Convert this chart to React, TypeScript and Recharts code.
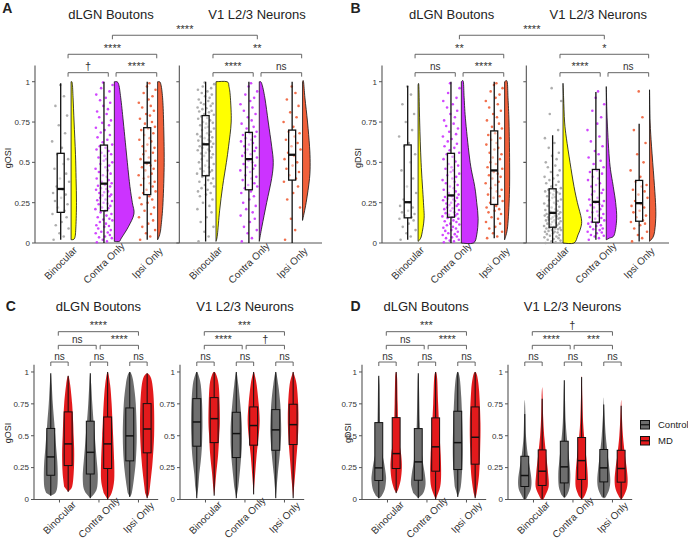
import React from 'react';
import { ComposedChart, Scatter, XAxis, YAxis } from 'recharts';

const CATEGORIES = ['Binocular', 'Contra Only', 'Ipsi Only'];
const Y_TICKS = [0, 0.25, 0.5, 0.75, 1];
const LEGEND = ['Control', 'MD'];

// ---------- A: gOSI raincloud ----------
// box stats per category: [min, q1, median, q3, max]
const A_DLGN_BOX = [
  [0.02, 0.19, 0.335, 0.556, 0.99],
  [0.0, 0.2, 0.368, 0.607, 1.0],
  [0.02, 0.3, 0.498, 0.715, 1.0],
];
const A_V1_BOX = [
  [0.01, 0.417, 0.612, 0.79, 1.0],
  [0.0, 0.33, 0.52, 0.686, 1.0],
  [0.0, 0.39, 0.547, 0.7, 1.0],
];
// half violins: [value, relative density]
const A_DLGN_DENS = [
  [[0.02, 0], [0.03, 0.18], [0.1, 0.24], [0.25, 0.27], [0.4, 0.25], [0.55, 0.22], [0.75, 0.15], [0.9, 0.1], [0.99, 0.06], [1.0, 0]],
  [[0.01, 0], [0.01, 0.25], [0.03, 0.35], [0.1, 0.7], [0.18, 0.98], [0.25, 0.9], [0.35, 0.78], [0.5, 0.65], [0.75, 0.45], [0.9, 0.32], [0.99, 0.2], [1.0, 0]],
  [[0.02, 0], [0.05, 0.1], [0.1, 0.17], [0.25, 0.27], [0.5, 0.33], [0.75, 0.3], [0.9, 0.25], [0.99, 0.15], [1.0, 0]],
];
const A_V1_DENS = [
  [[0.01, 0], [0.05, 0.07], [0.2, 0.18], [0.35, 0.33], [0.5, 0.52], [0.6, 0.63], [0.75, 0.76], [0.9, 0.72], [0.97, 0.65], [1.0, 0.55], [1.0, 0]],
  [[0.01, 0], [0.1, 0.13], [0.25, 0.37], [0.4, 0.62], [0.5, 0.7], [0.6, 0.62], [0.75, 0.45], [0.9, 0.28], [0.99, 0.12], [1.0, 0]],
  [[0.14, 0], [0.25, 0.18], [0.4, 0.35], [0.5, 0.38], [0.6, 0.35], [0.75, 0.25], [0.9, 0.12], [1.0, 0.05], [1.0, 0]],
];
// individual values drawn as jittered dots
const A_DLGN_DOTS = [
  [0.02, 0.04, 0.06, 0.09, 0.11, 0.13, 0.16, 0.18, 0.2, 0.22, 0.24, 0.26, 0.28, 0.3, 0.31, 0.33, 0.35, 0.38, 0.4, 0.43, 0.46, 0.49, 0.52, 0.55, 0.59, 0.63, 0.68, 0.73, 0.79, 0.85, 0.91, 0.98],
  [0.005, 0.01, 0.02, 0.03, 0.035, 0.04, 0.05, 0.06, 0.065, 0.07, 0.08, 0.09, 0.1, 0.105, 0.11, 0.12, 0.13, 0.14, 0.145, 0.15, 0.16, 0.17, 0.18, 0.19,
    0.2, 0.21, 0.215, 0.22, 0.23, 0.24, 0.245, 0.25, 0.26, 0.265, 0.27, 0.28, 0.29, 0.295, 0.3, 0.31, 0.315, 0.32, 0.33, 0.335, 0.34, 0.35, 0.355, 0.36,
    0.37, 0.38, 0.39, 0.4, 0.41, 0.42, 0.43, 0.44, 0.45, 0.46, 0.47, 0.48, 0.49, 0.5, 0.51, 0.52, 0.53, 0.54, 0.55, 0.56, 0.57, 0.58, 0.59, 0.6,
    0.61, 0.625, 0.64, 0.655, 0.67, 0.685, 0.7, 0.715, 0.73, 0.745, 0.76, 0.78, 0.8, 0.815, 0.83, 0.85, 0.87, 0.885, 0.9, 0.92, 0.94, 0.96, 0.98, 0.995],
  [0.02, 0.04, 0.06, 0.08, 0.1, 0.12, 0.14, 0.16, 0.18, 0.2, 0.22, 0.24, 0.25, 0.27, 0.28, 0.29,
    0.31, 0.32, 0.33, 0.35, 0.36, 0.37, 0.38, 0.4, 0.41, 0.42, 0.43, 0.45, 0.46, 0.47, 0.48, 0.49,
    0.51, 0.52, 0.53, 0.55, 0.56, 0.57, 0.59, 0.6, 0.61, 0.63, 0.64, 0.65, 0.67, 0.68, 0.7, 0.71,
    0.72, 0.74, 0.75, 0.77, 0.79, 0.8, 0.82, 0.84, 0.85, 0.87, 0.89, 0.91, 0.93, 0.95, 0.97, 0.99],
];
const A_V1_DOTS = [
  [0.01, 0.04, 0.07, 0.1, 0.13, 0.16, 0.19, 0.21, 0.23, 0.25, 0.27, 0.29, 0.3, 0.31, 0.32, 0.33, 0.34, 0.35, 0.36, 0.37, 0.38, 0.39, 0.4, 0.41,
    0.42, 0.43, 0.44, 0.445, 0.45, 0.46, 0.47, 0.48, 0.49, 0.5, 0.51, 0.52, 0.53, 0.54, 0.55, 0.555, 0.56, 0.57, 0.575, 0.58, 0.59, 0.595, 0.6, 0.61,
    0.615, 0.62, 0.63, 0.635, 0.64, 0.65, 0.655, 0.66, 0.67, 0.675, 0.68, 0.69, 0.7, 0.71, 0.715, 0.72, 0.73, 0.74, 0.745, 0.75, 0.76, 0.77, 0.775, 0.785,
    0.795, 0.8, 0.81, 0.815, 0.82, 0.83, 0.835, 0.84, 0.85, 0.86, 0.865, 0.87, 0.88, 0.89, 0.9, 0.91, 0.92, 0.93, 0.94, 0.95, 0.96, 0.97, 0.985, 0.995],
  [0.01, 0.03, 0.06, 0.08, 0.1, 0.13, 0.15, 0.17, 0.19, 0.21, 0.23, 0.25, 0.27, 0.29, 0.31, 0.32,
    0.34, 0.35, 0.36, 0.37, 0.39, 0.4, 0.41, 0.42, 0.44, 0.45, 0.46, 0.47, 0.48, 0.49, 0.5, 0.51,
    0.53, 0.54, 0.55, 0.56, 0.57, 0.58, 0.59, 0.6, 0.61, 0.62, 0.63, 0.64, 0.65, 0.66, 0.67, 0.68,
    0.69, 0.71, 0.72, 0.74, 0.76, 0.78, 0.8, 0.82, 0.84, 0.86, 0.88, 0.9, 0.92, 0.94, 0.97, 0.99],
  [0.02, 0.08, 0.15, 0.22, 0.27, 0.31, 0.35, 0.38, 0.4, 0.42, 0.44, 0.46, 0.48, 0.5, 0.52, 0.54, 0.56, 0.58, 0.6, 0.62, 0.64, 0.66, 0.68, 0.69, 0.72, 0.75, 0.78, 0.81, 0.85, 0.89, 0.93, 0.97],
];
const A_TESTS = [['†', '****', '****'], ['****', 'ns', '**']];
const A_TOP_TEST = '****';

// ---------- B: gDSI raincloud ----------
const B_DLGN_BOX = [
  [0.02, 0.156, 0.253, 0.608, 0.975],
  [0.0, 0.16, 0.295, 0.556, 1.0],
  [0.03, 0.239, 0.45, 0.695, 1.0],
];
const B_V1_BOX = [
  [0.0, 0.098, 0.187, 0.336, 0.668],
  [0.02, 0.129, 0.255, 0.456, 0.936],
  [0.01, 0.135, 0.247, 0.388, 0.74],
];
const B_DLGN_DENS = [
  [[0.01, 0], [0.02, 0.08], [0.05, 0.18], [0.15, 0.3], [0.25, 0.27], [0.5, 0.15], [0.75, 0.08], [0.97, 0.04], [0.98, 0]],
  [[0.0, 0], [0.0, 0.6], [0.05, 0.77], [0.15, 0.84], [0.25, 0.77], [0.35, 0.67], [0.5, 0.44], [0.75, 0.22], [0.9, 0.14], [1.0, 0.1], [1.0, 0]],
  [[0.02, 0], [0.1, 0.15], [0.3, 0.24], [0.5, 0.25], [0.75, 0.22], [0.9, 0.17], [1.0, 0.13], [1.0, 0]],
];
const B_V1_DENS = [
  [[0.0, 0], [0.0, 0.55], [0.05, 0.75], [0.1, 0.9], [0.15, 0.92], [0.25, 0.72], [0.35, 0.55], [0.5, 0.35], [0.65, 0.17], [0.75, 0.08], [0.9, 0.03], [0.99, 0]],
  [[0.02, 0], [0.03, 0.15], [0.05, 0.4], [0.15, 0.52], [0.25, 0.47], [0.35, 0.35], [0.5, 0.17], [0.75, 0.05], [0.97, 0]],
  [[0.01, 0], [0.05, 0.22], [0.15, 0.31], [0.25, 0.3], [0.4, 0.22], [0.6, 0.1], [0.75, 0.03], [0.95, 0]],
];
const B_DLGN_DOTS = [
  [0.02, 0.04, 0.06, 0.08, 0.1, 0.12, 0.14, 0.15, 0.16, 0.17, 0.18, 0.19, 0.2, 0.22, 0.23, 0.25, 0.27, 0.31, 0.35, 0.4, 0.45, 0.5, 0.55, 0.6, 0.62, 0.66, 0.7, 0.75, 0.8, 0.86, 0.92, 0.97],
  [0.005, 0.01, 0.015, 0.02, 0.03, 0.035, 0.04, 0.05, 0.055, 0.06, 0.07, 0.075, 0.08, 0.09, 0.095, 0.1, 0.11, 0.115, 0.12, 0.13, 0.135, 0.14, 0.15, 0.155,
    0.16, 0.165, 0.17, 0.175, 0.18, 0.185, 0.19, 0.2, 0.205, 0.21, 0.215, 0.22, 0.23, 0.235, 0.24, 0.245, 0.25, 0.26, 0.265, 0.27, 0.275, 0.28, 0.285, 0.29,
    0.3, 0.31, 0.32, 0.33, 0.34, 0.35, 0.36, 0.37, 0.38, 0.39, 0.4, 0.41, 0.42, 0.43, 0.44, 0.45, 0.46, 0.47, 0.48, 0.49, 0.505, 0.52, 0.535, 0.55,
    0.56, 0.575, 0.59, 0.6, 0.615, 0.63, 0.645, 0.66, 0.675, 0.69, 0.71, 0.725, 0.74, 0.76, 0.78, 0.8, 0.82, 0.84, 0.86, 0.88, 0.9, 0.93, 0.96, 0.99],
  [0.03, 0.04, 0.06, 0.07, 0.09, 0.1, 0.12, 0.13, 0.15, 0.16, 0.18, 0.19, 0.2, 0.21, 0.22, 0.23,
    0.25, 0.26, 0.28, 0.29, 0.3, 0.32, 0.33, 0.34, 0.36, 0.37, 0.38, 0.4, 0.41, 0.42, 0.43, 0.44,
    0.46, 0.47, 0.49, 0.5, 0.52, 0.53, 0.55, 0.56, 0.58, 0.59, 0.61, 0.62, 0.64, 0.65, 0.67, 0.68,
    0.71, 0.72, 0.74, 0.76, 0.78, 0.8, 0.82, 0.84, 0.86, 0.88, 0.9, 0.92, 0.94, 0.96, 0.98, 0.99],
];
const B_V1_DOTS = [
  [0.0, 0.005, 0.01, 0.015, 0.02, 0.025, 0.03, 0.035, 0.04, 0.045, 0.05, 0.055, 0.06, 0.065, 0.07, 0.07, 0.075, 0.08, 0.08, 0.085, 0.09, 0.09, 0.095, 0.095,
    0.1, 0.105, 0.11, 0.115, 0.12, 0.12, 0.125, 0.13, 0.135, 0.14, 0.14, 0.145, 0.15, 0.15, 0.155, 0.16, 0.16, 0.165, 0.17, 0.17, 0.175, 0.18, 0.18, 0.185,
    0.19, 0.195, 0.2, 0.205, 0.21, 0.22, 0.225, 0.23, 0.24, 0.245, 0.25, 0.26, 0.265, 0.27, 0.28, 0.285, 0.29, 0.3, 0.305, 0.31, 0.315, 0.32, 0.325, 0.33,
    0.34, 0.35, 0.36, 0.37, 0.38, 0.39, 0.4, 0.41, 0.42, 0.44, 0.45, 0.47, 0.48, 0.5, 0.52, 0.54, 0.56, 0.59, 0.62, 0.65, 0.7, 0.8, 0.88, 0.96],
  [0.02, 0.03, 0.04, 0.045, 0.05, 0.06, 0.065, 0.07, 0.08, 0.085, 0.09, 0.1, 0.105, 0.11, 0.12, 0.125,
    0.13, 0.14, 0.15, 0.155, 0.16, 0.17, 0.18, 0.19, 0.195, 0.2, 0.21, 0.22, 0.23, 0.235, 0.24, 0.25,
    0.26, 0.27, 0.28, 0.3, 0.31, 0.32, 0.33, 0.35, 0.36, 0.37, 0.39, 0.4, 0.41, 0.43, 0.44, 0.45,
    0.47, 0.49, 0.51, 0.53, 0.55, 0.57, 0.6, 0.63, 0.66, 0.7, 0.74, 0.78, 0.82, 0.86, 0.9, 0.94],
  [0.01, 0.03, 0.05, 0.07, 0.09, 0.11, 0.12, 0.13, 0.14, 0.16, 0.17, 0.19, 0.2, 0.22, 0.23, 0.24, 0.26, 0.28, 0.3, 0.32, 0.33, 0.35, 0.36, 0.38, 0.41, 0.45, 0.5, 0.55, 0.62, 0.7, 0.78, 0.94],
];
const B_TESTS = [['ns', '****', '**'], ['****', 'ns', '*']];
const B_TOP_TEST = '****';

// ---------- C: gOSI Control vs MD ----------
// per category: [Control stats, MD stats]
const C_DLGN_BOX = [
  [[0.03, 0.19, 0.334, 0.557, 0.99], [0.06, 0.266, 0.436, 0.687, 0.97]],
  [[0.01, 0.2, 0.37, 0.614, 0.99], [0.0, 0.243, 0.436, 0.647, 1.0]],
  [[0.02, 0.303, 0.499, 0.718, 1.0], [0.01, 0.366, 0.553, 0.752, 0.99]],
];
const C_V1_BOX = [
  [[0.01, 0.418, 0.608, 0.791, 1.0], [0.03, 0.446, 0.634, 0.799, 1.0]],
  [[0.01, 0.329, 0.517, 0.684, 1.0], [0.04, 0.426, 0.58, 0.726, 1.0]],
  [[0.01, 0.386, 0.546, 0.705, 1.0], [0.01, 0.431, 0.587, 0.747, 1.0]],
];
const C_DLGN_DENS = [
  [[[0.03, 0], [0.05, 0.6], [0.1, 0.87], [0.2, 0.93], [0.3, 0.87], [0.4, 0.73], [0.5, 0.6], [0.6, 0.47], [0.75, 0.27], [0.9, 0.13], [0.99, 0]],
   [[0.06, 0], [0.1, 0.53], [0.2, 0.73], [0.3, 0.8], [0.4, 0.8], [0.5, 0.73], [0.6, 0.67], [0.75, 0.53], [0.9, 0.27], [0.97, 0]]],
  [[[0.01, 0], [0.05, 0.6], [0.1, 0.93], [0.2, 1.0], [0.3, 0.87], [0.4, 0.73], [0.5, 0.6], [0.6, 0.45], [0.75, 0.27], [0.9, 0.13], [0.99, 0]],
   [[0.0, 0], [0.05, 0.53], [0.15, 0.87], [0.3, 0.87], [0.5, 0.73], [0.6, 0.65], [0.75, 0.53], [0.9, 0.33], [1.0, 0]]],
  [[[0.02, 0], [0.05, 0.27], [0.15, 0.53], [0.3, 0.8], [0.5, 0.93], [0.75, 0.8], [0.9, 0.53], [0.97, 0.3], [1.0, 0]],
   [[0.01, 0], [0.05, 0.27], [0.15, 0.47], [0.3, 0.73], [0.5, 0.93], [0.7, 0.93], [0.85, 0.8], [0.95, 0.53], [0.99, 0]]],
];
const C_V1_DENS = [
  [[[0.01, 0], [0.1, 0.2], [0.2, 0.33], [0.3, 0.53], [0.4, 0.67], [0.5, 0.73], [0.6, 0.76], [0.75, 0.71], [0.9, 0.53], [0.98, 0.2], [1.0, 0]],
   [[0.03, 0], [0.1, 0.13], [0.2, 0.27], [0.35, 0.53], [0.5, 0.67], [0.6, 0.76], [0.75, 0.73], [0.9, 0.6], [0.98, 0.27], [1.0, 0]]],
  [[[0.01, 0], [0.1, 0.27], [0.25, 0.53], [0.4, 0.73], [0.5, 0.76], [0.6, 0.73], [0.75, 0.53], [0.9, 0.27], [1.0, 0]],
   [[0.04, 0], [0.2, 0.2], [0.35, 0.4], [0.5, 0.67], [0.62, 0.8], [0.75, 0.67], [0.9, 0.4], [0.98, 0.13], [1.0, 0]]],
  [[[0.01, 0], [0.2, 0.27], [0.35, 0.53], [0.5, 0.71], [0.6, 0.71], [0.75, 0.6], [0.9, 0.33], [1.0, 0]],
   [[0.01, 0], [0.15, 0.2], [0.3, 0.4], [0.45, 0.6], [0.6, 0.71], [0.75, 0.67], [0.9, 0.47], [0.98, 0.13], [1.0, 0]]],
];
const C_CAT_TESTS = [['ns', 'ns', 'ns'], ['ns', 'ns', 'ns']];
const C_PAIR_TESTS = [['ns', '****', '****'], ['****', '†', '***']];

// ---------- D: gDSI Control vs MD ----------
const D_DLGN_BOX = [
  [[0.01, 0.149, 0.248, 0.603, 0.97], [0.05, 0.243, 0.36, 0.642, 1.0]],
  [[0.01, 0.151, 0.295, 0.556, 0.99], [0.0, 0.222, 0.413, 0.64, 1.0]],
  [[0.02, 0.235, 0.446, 0.692, 1.0], [0.01, 0.277, 0.488, 0.726, 1.0]],
];
const D_V1_BOX = [
  [[0.0, 0.102, 0.188, 0.339, 0.67], [0.0, 0.11, 0.222, 0.389, 0.79]],
  [[0.02, 0.13, 0.256, 0.457, 0.935], [0.0, 0.157, 0.305, 0.486, 0.96]],
  [[0.02, 0.138, 0.248, 0.392, 0.745], [0.0, 0.136, 0.243, 0.386, 0.735]],
];
const D_DLGN_DENS = [
  [[[0.01, 0], [0.03, 0.4], [0.08, 0.8], [0.15, 0.97], [0.2, 0.93], [0.3, 0.67], [0.4, 0.33], [0.5, 0.2], [0.75, 0.13], [0.9, 0.09], [0.97, 0]],
   [[0.05, 0], [0.08, 0.27], [0.15, 0.6], [0.25, 0.76], [0.35, 0.67], [0.5, 0.33], [0.75, 0.2], [0.95, 0.13], [1.0, 0]]],
  [[[0.01, 0], [0.05, 0.67], [0.12, 0.97], [0.2, 0.87], [0.3, 0.6], [0.45, 0.33], [0.6, 0.2], [0.9, 0.09], [0.99, 0]],
   [[0.0, 0], [0.02, 0.13], [0.1, 0.6], [0.2, 0.73], [0.35, 0.67], [0.5, 0.53], [0.75, 0.33], [0.95, 0.2], [1.0, 0]]],
  [[[0.02, 0], [0.1, 0.4], [0.25, 0.6], [0.4, 0.67], [0.6, 0.6], [0.8, 0.47], [0.95, 0.27], [1.0, 0]],
   [[0.01, 0], [0.05, 0.2], [0.2, 0.53], [0.4, 0.67], [0.6, 0.71], [0.85, 0.53], [0.97, 0.27], [1.0, 0]]],
];
const D_V1_DENS = [
  [[[0.0, 0], [0.0, 0.13], [0.03, 0.4], [0.08, 0.8], [0.15, 0.89], [0.25, 0.67], [0.35, 0.4], [0.5, 0.16], [0.7, 0.07], [0.78, 0]],
   [[0.0, 0], [0.0, 0.13], [0.03, 0.4], [0.1, 0.87], [0.2, 0.8], [0.35, 0.53], [0.5, 0.27], [0.65, 0.13], [0.8, 0.07], [0.88, 0]]],
  [[[0.01, 0], [0.04, 0.4], [0.1, 0.73], [0.2, 0.8], [0.3, 0.67], [0.45, 0.4], [0.6, 0.2], [0.8, 0.09], [0.94, 0]],
   [[0.0, 0], [0.03, 0.4], [0.1, 0.8], [0.2, 0.8], [0.3, 0.67], [0.45, 0.4], [0.6, 0.2], [0.8, 0.09], [0.97, 0]]],
  [[[0.01, 0], [0.02, 0.27], [0.08, 0.73], [0.15, 0.87], [0.25, 0.73], [0.35, 0.53], [0.5, 0.27], [0.7, 0.07], [0.8, 0]],
   [[0.0, 0], [0.02, 0.27], [0.08, 0.73], [0.15, 0.87], [0.25, 0.73], [0.35, 0.5], [0.5, 0.24], [0.65, 0.1], [0.78, 0]]],
];
const D_CAT_TESTS = [['ns', 'ns', 'ns'], ['ns', 'ns', 'ns']];
const D_PAIR_TESTS = [['ns', '****', '***'], ['****', '***', '†']];

// fixed horizontal jitter pattern for the dots (fraction of the jitter half-width)
const JITTER = [-0.82, 0.35, -0.14, 0.91, -0.57, 0.12, 0.68, -0.95, 0.44, -0.31, 0.79, -0.66, 0.05, 0.58, -0.88, 0.23,
  -0.47, 0.97, -0.08, 0.63, -0.72, 0.29, 0.86, -0.39, 0.14, -0.99, 0.51, -0.22, 0.74, -0.61, 0.38, -0.05,
  0.93, -0.77, 0.19, -0.44, 0.66, -0.17, 0.84, -0.53, 0.02, 0.47, -0.91, 0.27, -0.35, 0.71, -0.69, 0.11,
  0.89, -0.26, 0.55, -0.84, 0.32, -0.12, 0.77, -0.58, 0.41, -0.97, 0.16, 0.61, -0.41, 0.96, -0.03, 0.25,
  -0.63, 0.07, 0.83, -0.29, 0.52, -0.86, 0.18, -0.49, 0.95, -0.15, 0.39, -0.74, 0.69, -0.37, 0.09, -0.93,
  0.59, -0.2, 0.81, -0.55, 0.31, -0.79, 0.46, -0.07, 0.72, -0.45, 0.21, -0.89, 0.64, -0.33, 0.99, -0.11];

// ---------- styling / layout ----------
const FONT = '"Liberation Sans", Arial, sans-serif';
const INK = '#111';
const AXIS = '#555';
const DOT_COLORS = ['#a5a5a5', '#cc33ff', '#f0603a'];
const HALF_FILLS = ['#ffff00', '#cc33ff', '#f0603a'];
const PAIR_FILLS = ['#6e6e6e', '#e31a1c'];

const AB_CAT_X = [1, 2, 3, 4.35, 5.35, 6.35];
const AB_DOMAIN = [0.406, 7.04];
const AB_SPLIT = 3.742;
const AB_YMAX = 1.395;
const AB_LEVELS = [1.056, 1.17, 1.288];

const CD_CAT_X = [1, 2, 3];
const CD_DOMAIN = [0.355, 3.5];
const CD_YMAX = 1.486;
const CD_LEVELS = [1.078, 1.209, 1.316];

const blank = () => <g />;

function smooth(pts: any[]) {
  let d = `M${pts[0].x},${pts[0].y}`;
  for (let i = 0; i < pts.length - 1; i++) {
    const p0 = pts[i - 1] || pts[i];
    const p1 = pts[i];
    const p2 = pts[i + 1];
    const p3 = pts[i + 2] || p2;
    const c1x = p1.x + (p2.x - p0.x) / 6;
    const c1y = p1.y + (p2.y - p0.y) / 6;
    const c2x = p2.x - (p3.x - p1.x) / 6;
    const c2y = p2.y - (p3.y - p1.y) / 6;
    d += ` C${c1x},${c1y} ${c2x},${c2y} ${p2.x},${p2.y}`;
  }
  return d;
}

// a Scatter whose points are hidden and whose joined line draws a custom shape
function pathSeries(key: string, data: any[], render: (pts: any[]) => any) {
  return (
    <Scatter key={key} data={data} shape={blank} line={(p: any) => render(p.points)} isAnimationActive={false} />
  );
}

function dotSeries(key: string, cx: number, values: number[], color: string) {
  const data = values.map((v, i) => ({ x: cx + JITTER[i % JITTER.length] * 0.2, y: v }));
  return (
    <Scatter key={key} data={data} isAnimationActive={false}
      shape={(p: any) => <circle cx={p.cx} cy={p.cy} r={1.3} fill={color} fillOpacity={0.9} />} />
  );
}

function halfViolin(key: string, base: number, dens: number[][], width: number, fill: string) {
  const data = dens.map(([v, d]) => ({ x: base + d * width, y: v }));
  return pathSeries(key, data, (pts) => <path d={smooth(pts) + ' Z'} fill={fill} stroke={INK} strokeWidth={0.8} />);
}

function fullViolin(key: string, cx: number, dens: number[][], width: number, fill: string) {
  const right = dens.map(([v, d]) => ({ x: cx + d * width, y: v }));
  const left = dens.slice(1, -1).reverse().map(([v, d]) => ({ x: cx - d * width, y: v }));
  return pathSeries(key, [...right, ...left], (pts) => <path d={smooth(pts) + ' Z'} fill={fill} />);
}

function boxSeries(key: string, cx: number, s: number[], hw: number, fill: string, sw: number, mw: number) {
  const data = [
    { x: cx, y: s[0] }, { x: cx - hw, y: s[1] }, { x: cx + hw, y: s[2] }, { x: cx + hw, y: s[3] }, { x: cx, y: s[4] },
  ];
  return pathSeries(key, data, (pts) => {
    const [mn, q1, md, q3, mx] = pts;
    return (
      <g>
        <path d={`M${mn.x},${mn.y}V${q1.y}M${mn.x},${q3.y}V${mx.y}`} stroke={INK} strokeWidth={sw} fill="none" />
        <rect x={q1.x} y={q3.y} width={md.x - q1.x} height={q1.y - q3.y} fill={fill} stroke={INK} strokeWidth={sw} />
        <line x1={q1.x} x2={md.x} y1={md.y} y2={md.y} stroke={INK} strokeWidth={mw} />
      </g>
    );
  });
}

function bracketSeries(key: string, x1: number, x2: number, level: number, label: string) {
  return pathSeries(key, [{ x: x1, y: level }, { x: x2, y: level }], (pts) => {
    const [a, b] = pts;
    return (
      <g>
        <path d={`M${a.x},${a.y + 4}V${a.y}H${b.x}V${b.y + 4}`} fill="none" stroke={AXIS} strokeWidth={0.9} />
        <text x={(a.x + b.x) / 2} y={a.y - 2.5} textAnchor="middle" fontSize={label === 'ns' ? 10 : 11}
          fill="#333" fontFamily={FONT}>{label}</text>
      </g>
    );
  });
}

function axisSeries(key: string, x: number, top: number, ticks: boolean) {
  const data = [...(ticks ? Y_TICKS : [0]).map((v) => ({ x, y: v })), { x, y: top }];
  return pathSeries(key, data, (pts) => {
    let d = `M${pts[0].x},${pts[0].y}V${pts[pts.length - 1].y}`;
    if (ticks) pts.slice(0, -1).forEach((p) => { d += `M${p.x},${p.y}h-3`; });
    return <path d={d} stroke={AXIS} strokeWidth={1.1} fill="none" />;
  });
}

const catTick = (dy: number) => (props: any) => {
  const { x, y, index } = props;
  const ty = y + dy;
  return (
    <text x={x} y={ty} transform={`rotate(-45 ${x} ${ty})`} textAnchor="middle" dominantBaseline="central"
      fontSize={10} fill="#333" fontFamily={FONT}>{CATEGORIES[index % 3]}</text>
  );
};

function RainChart({ boxes, dens, dots, tests, topTest }: any) {
  const items: any[] = [];
  boxes.forEach((grp: number[][], g: number) => grp.forEach((_s, c) => {
    items.push(dotSeries(`dot${g}${c}`, AB_CAT_X[g * 3 + c], dots[g][c], DOT_COLORS[c]));
  }));
  boxes.forEach((grp: number[][], g: number) => grp.forEach((s, c) => {
    const cx = AB_CAT_X[g * 3 + c];
    items.push(halfViolin(`vio${g}${c}`, cx + 0.24, dens[g][c], 0.462, HALF_FILLS[c]));
    items.push(boxSeries(`box${g}${c}`, cx, s, 0.081, 'rgba(255,255,255,0.45)', 1.3, 2.3));
  }));
  const mids: number[] = [];
  tests.forEach((t: string[], g: number) => {
    const c = AB_CAT_X.slice(g * 3, g * 3 + 3);
    items.push(bracketSeries(`br${g}a`, c[0] + 0.17, c[1] + 0.1, AB_LEVELS[0], t[0]));
    items.push(bracketSeries(`br${g}b`, c[1] + 0.28, c[2] + 0.22, AB_LEVELS[0], t[1]));
    items.push(bracketSeries(`br${g}c`, c[0] + 0.17, c[2] + 0.22, AB_LEVELS[1], t[2]));
    mids.push((c[0] + c[2] + 0.39) / 2);
  });
  items.push(bracketSeries('brTop', mids[0], mids[1], AB_LEVELS[2], topTest));
  items.push(axisSeries('axL', AB_DOMAIN[0], 1.1, false));
  items.push(axisSeries('axR', AB_SPLIT, 1.1, true));
  return (
    <ComposedChart width={344} height={294} margin={{ top: 18, right: 22, left: 0, bottom: 0 }}>
      <XAxis type="number" dataKey="x" domain={AB_DOMAIN} ticks={AB_CAT_X} interval={0} tick={catTick(17)}
        tickLine={false} tickSize={3} tickMargin={0} height={51} stroke={AXIS} />
      <YAxis type="number" dataKey="y" domain={[0, AB_YMAX]} ticks={Y_TICKS} interval={0} axisLine={false}
        tickSize={3} tickMargin={2} width={35} stroke={AXIS} tick={{ fontSize: 8, fill: '#333' }} />
      {items}
    </ComposedChart>
  );
}

function ViolinChart({ boxes, dens, catTests, pairTests }: any) {
  const items: any[] = [];
  boxes.forEach((pair: number[][], c: number) => pair.forEach((s, k) => {
    const cx = CD_CAT_X[c] + (k === 0 ? -0.22 : 0.22);
    items.push(fullViolin(`vio${c}${k}`, cx, dens[c][k], 0.19, PAIR_FILLS[k]));
    items.push(boxSeries(`box${c}${k}`, cx, s, 0.1, PAIR_FILLS[k], 1, 1.5));
  }));
  CD_CAT_X.forEach((c, i) => items.push(bracketSeries(`bc${i}`, c - 0.22, c + 0.22, CD_LEVELS[0], catTests[i])));
  items.push(bracketSeries('bp0', CD_CAT_X[0] - 0.03, CD_CAT_X[1] - 0.07, CD_LEVELS[1], pairTests[0]));
  items.push(bracketSeries('bp1', CD_CAT_X[1] + 0.03, CD_CAT_X[2], CD_LEVELS[1], pairTests[1]));
  items.push(bracketSeries('bp2', CD_CAT_X[0] - 0.03, CD_CAT_X[2], CD_LEVELS[2], pairTests[2]));
  items.push(axisSeries('axL', CD_DOMAIN[0], 1.057, false));
  return (
    <ComposedChart width={163} height={252} margin={{ top: 20, right: 4.8, left: 0, bottom: 0 }}>
      <XAxis type="number" dataKey="x" domain={CD_DOMAIN} ticks={CD_CAT_X} interval={0} tick={catTick(15)}
        tickSize={3} tickMargin={0} height={42.5} stroke={AXIS} />
      <YAxis type="number" dataKey="y" domain={[0, CD_YMAX]} ticks={Y_TICKS} interval={0} axisLine={false}
        tickSize={3} tickMargin={2} width={34} stroke={AXIS} tick={{ fontSize: 8, fill: '#333' }} />
      {items}
    </ComposedChart>
  );
}

const Txt = ({ x, y, size, bold, rotate, children }: any) => (
  <div style={{
    position: 'absolute', left: x, top: y, fontSize: size, lineHeight: `${size}px`, fontWeight: bold ? 700 : 400,
    whiteSpace: 'nowrap', color: '#222', transform: `translate(-50%, -50%)${rotate ? ' rotate(-90deg)' : ''}`,
  }}>{children}</div>
);

const at = (left: number, top: number, child: any) => (
  <div style={{ position: 'absolute', left, top }}>{child}</div>
);

export default function App() {
  return (
    <div style={{ position: 'absolute', left: 0, top: 0, width: 688, height: 542, background: '#fff', fontFamily: FONT, overflow: 'hidden' }}>
      {at(0, 0, <RainChart boxes={[A_DLGN_BOX, A_V1_BOX]} dens={[A_DLGN_DENS, A_V1_DENS]} dots={[A_DLGN_DOTS, A_V1_DOTS]} tests={A_TESTS} topTest={A_TOP_TEST} />)}
      {at(347, 0, <RainChart boxes={[B_DLGN_BOX, B_V1_BOX]} dens={[B_DLGN_DENS, B_V1_DENS]} dots={[B_DLGN_DOTS, B_V1_DOTS]} tests={B_TESTS} topTest={B_TOP_TEST} />)}
      {at(0, 290, <ViolinChart boxes={C_DLGN_BOX} dens={C_DLGN_DENS} catTests={C_CAT_TESTS[0]} pairTests={C_PAIR_TESTS[0]} />)}
      {at(146, 290, <ViolinChart boxes={C_V1_BOX} dens={C_V1_DENS} catTests={C_CAT_TESTS[1]} pairTests={C_PAIR_TESTS[1]} />)}
      {at(327.7, 290, <ViolinChart boxes={D_DLGN_BOX} dens={D_DLGN_DENS} catTests={D_CAT_TESTS[0]} pairTests={D_PAIR_TESTS[0]} />)}
      {at(474.3, 290, <ViolinChart boxes={D_V1_BOX} dens={D_V1_DENS} catTests={D_CAT_TESTS[1]} pairTests={D_PAIR_TESTS[1]} />)}

      <Txt x={7.2} y={8.3} size={14} bold>A</Txt>
      <Txt x={355.5} y={8.3} size={14} bold>B</Txt>
      <Txt x={10.8} y={306} size={14} bold>C</Txt>
      <Txt x={355.5} y={305.5} size={14} bold>D</Txt>

      <Txt x={111} y={13.8} size={13}>dLGN Boutons</Txt>
      <Txt x={257} y={13.8} size={13}>V1 L2/3 Neurons</Txt>
      <Txt x={451.7} y={13.8} size={13}>dLGN Boutons</Txt>
      <Txt x={598.3} y={13.8} size={13}>V1 L2/3 Neurons</Txt>
      <Txt x={98.3} y={305.5} size={13}>dLGN Boutons</Txt>
      <Txt x={245} y={305.5} size={13}>V1 L2/3 Neurons</Txt>
      <Txt x={426.2} y={305.5} size={13}>dLGN Boutons</Txt>
      <Txt x={572.5} y={305.5} size={13}>V1 L2/3 Neurons</Txt>

      <Txt x={8.3} y={158} size={9} rotate>gOSI</Txt>
      <Txt x={358} y={157.5} size={9} rotate>gDSI</Txt>
      <Txt x={8.3} y={433} size={9} rotate>gOSI</Txt>
      <Txt x={348} y={433} size={9} rotate>gDSI</Txt>

      <div style={{ position: 'absolute', left: 640, top: 420 }}>
        {LEGEND.map((name, i) => (
          <div key={name} style={{ display: 'flex', alignItems: 'center', height: 9, marginBottom: 7 }}>
            <svg width={10} height={10} style={{ display: 'block' }}>
              <rect x={0.5} y={0.5} width={9} height={8.5} fill={PAIR_FILLS[i]} stroke={INK} strokeWidth={1} />
              <line x1={0.5} x2={9.5} y1={4.75} y2={4.75} stroke={INK} strokeWidth={1.2} />
            </svg>
            <span style={{ marginLeft: 8, fontSize: 9.5, color: '#222' }}>{name}</span>
          </div>
        ))}
      </div>
    </div>
  );
}
